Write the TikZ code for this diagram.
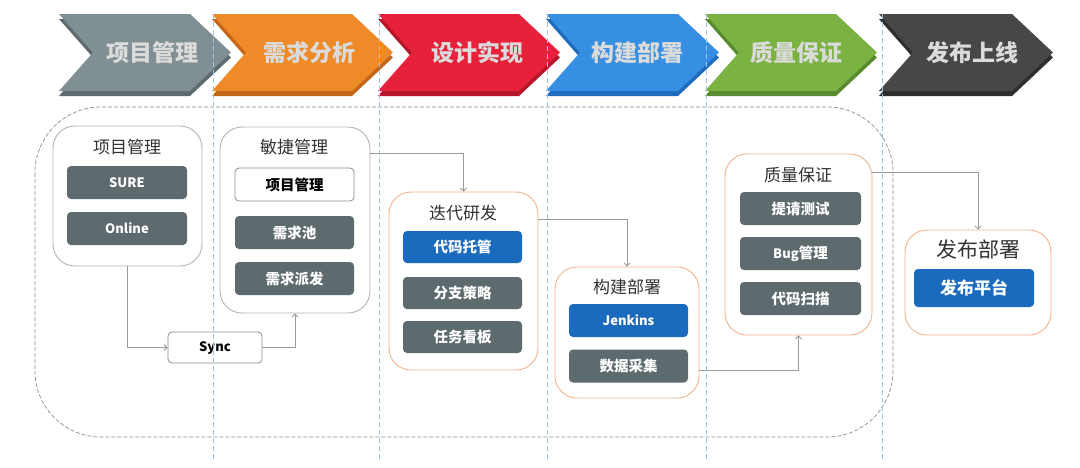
\documentclass[tikz,border=0pt]{standalone}
\usepackage{fontspec}
\setmainfont{Noto Sans CJK SC}
\usetikzlibrary{arrows.meta}
\definecolor{cgray}{HTML}{7F8F93}
\definecolor{cgrayd}{HTML}{5E6B6E}
\definecolor{corange}{HTML}{EE8A28}
\definecolor{coranged}{HTML}{C4661A}
\definecolor{cred}{HTML}{E8213B}
\definecolor{credd}{HTML}{B5162A}
\definecolor{cblue}{HTML}{368FE2}
\definecolor{cblued}{HTML}{1F6BBE}
\definecolor{cgreen}{HTML}{7BB342}
\definecolor{cgreend}{HTML}{5A8A2E}
\definecolor{cdark}{HTML}{474747}
\definecolor{cdarkd}{HTML}{2E2E2E}
\definecolor{itemgray}{HTML}{5D6A6E}
\definecolor{itemblue}{HTML}{1A6BBD}
\definecolor{peach}{HTML}{F2B48E}
\definecolor{grpgray}{HTML}{B4B4B4}
\definecolor{vline}{HTML}{9CC6E8}
\definecolor{conncol}{HTML}{9A9A9A}
\newcommand{\mychevron}[6]{%
  \fill[#6] (#1,19) -- (#3,19) -- (#4,57.5) -- (#3,96) -- (#1,96) -- (#2,57.5) -- cycle;
  \fill[#5] (#1,14) -- (#3,14) -- (#4,52.5) -- (#3,91) -- (#1,91) -- (#2,52.5) -- cycle;}
\begin{document}
\begin{tikzpicture}[x=1pt,y=-1pt,
  chevtext/.style={text=white!86!black,font=\fontsize{23}{27}\selectfont\bfseries},
  grp/.style={draw=#1,line width=0.9pt,rounded corners=22pt,fill=white},
  grptitle/.style={text=black!80,font=\fontsize{17}{20}\selectfont},
  item/.style={fill=itemgray,rounded corners=4pt,text=white,font=\fontsize{14.5}{17}\selectfont\bfseries,inner sep=0pt},
  latin/.style={font=\fontsize{13}{16}\selectfont\bfseries},
  bitem/.style={item,fill=itemblue},
  witem/.style={draw=black!45,line width=0.8pt,fill=white,rounded corners=4pt,text=black,font=\fontsize{14.5}{17}\selectfont\bfseries,inner sep=0pt},
  conn/.style={draw=conncol,line width=0.8pt,-{Straight Barb[length=3pt,width=6pt]}},
  vdash/.style={draw=vline,line width=0.8pt,dash pattern=on 5pt off 3pt}
]
\useasboundingbox[fill=white] (0,0) rectangle (1080,467);

% chevrons
\mychevron{59}{93}{190}{231}{cgray}{cgrayd}
\mychevron{212}{246}{352}{393}{corange}{coranged}
\mychevron{378}{412}{519}{560}{cred}{credd}
\mychevron{546}{580}{678}{719}{cblue}{cblued}
\mychevron{705}{739}{836}{877}{cgreen}{cgreend}
\mychevron{879}{913}{1012}{1053}{cdark}{cdarkd}
\node[chevtext] (c1) at (152,53) {项目管理};
\node[chevtext] (c2) at (309,53) {需求分析};
\node[chevtext] (c3) at (477,53) {设计实现};
\node[chevtext] (c4) at (637,53) {构建部署};
\node[chevtext] (c5) at (796,53) {质量保证};
\node[chevtext] (c6) at (972,53) {发布上线};

% outer dashed region
\draw[draw=black!45,line width=0.7pt,dash pattern=on 4pt off 2pt,rounded corners=66pt] (35,107) rectangle (893,437);

% group 1
\node[grp=grpgray,minimum width=149,minimum height=140] (g1) at (127.5,196) {};
\node[grptitle] (t1) at (127,147) {项目管理};
\node[item,latin,minimum width=120,minimum height=33] (sure) at (127,182.5) {SURE};
\node[item,latin,minimum width=120,minimum height=33] (online) at (127,228.5) {Online};

% group 2
\node[grp=grpgray,minimum width=150,minimum height=186] (g2) at (295,220) {};
\node[grptitle] (t2) at (294,147) {敏捷管理};
\node[witem,minimum width=119,minimum height=33] (pm) at (294.5,184.5) {项目管理};
\node[item,minimum width=119,minimum height=33] (pool) at (294.5,232.5) {需求池};
\node[item,minimum width=119,minimum height=33] (disp) at (294.5,278.5) {需求派发};

% sync
\node[witem,latin,minimum width=94,minimum height=31] (sync) at (215,347.5) {Sync};

% group 3
\node[grp=peach,minimum width=149,minimum height=178] (g3) at (463.5,281) {};
\node[grptitle] (t3) at (463,213) {迭代研发};
\node[bitem,minimum width=119,minimum height=32] (code) at (462.5,247) {代码托管};
\node[item,minimum width=119,minimum height=32] (branch) at (462.5,293) {分支策略};
\node[item,minimum width=119,minimum height=32] (task) at (462.5,337) {任务看板};

% group 4
\node[grp=peach,minimum width=144,minimum height=131] (g4) at (627,332.5) {};
\node[grptitle] (t4) at (627,287) {构建部署};
\node[bitem,latin,minimum width=119,minimum height=33] (jenkins) at (628.5,320.5) {Jenkins};
\node[item,minimum width=119,minimum height=33] (data) at (628.5,366) {数据采集};

% group 5
\node[grp=peach,minimum width=147,minimum height=181] (g5) at (798.5,244.5) {};
\node[grptitle] (t5) at (798,175) {质量保证};
\node[item,minimum width=121,minimum height=33] (test) at (800.5,208.5) {提请测试};
\node[item,minimum width=121,minimum height=33] (bug) at (800.5,253.5) {{\fontsize{13}{16}\selectfont Bug}管理};
\node[item,minimum width=121,minimum height=33] (scan) at (800.5,298.5) {代码扫描};

% group 6
\node[grp=peach,minimum width=146,minimum height=105] (g6) at (978,282.5) {};
\node[grptitle,font=\fontsize{21}{24}\selectfont] (t6) at (978,250) {发布部署};
\node[bitem,minimum width=120,minimum height=38,font=\fontsize{17}{20}\selectfont\bfseries] (rel) at (974,288) {发布平台};

% connectors
\draw[conn] (g1.south) |- (sync.west);
\draw[conn] (sync.east) -| (g2.south);
\draw[conn] ([yshift=-27pt]g2.north east) -| (g3.north);
\draw[conn] ([yshift=-28pt]g3.north east) -| (g4.north);
\draw[conn] ([yshift=-37.5pt]g4.east) -| (g5.south);
\draw[conn] ([yshift=-19pt]g5.north east) -| (g6.north);

% vertical dashed guide lines
\foreach \vx/\nm in {213/v1,379/v2,547/v3,706/v4,882/v5}{
  \coordinate (\nm a) at (\vx,14);
  \coordinate (\nm b) at (\vx,460);
  \draw[vdash] (\nm a) -- (\nm b);
}
\end{tikzpicture}
\end{document}
